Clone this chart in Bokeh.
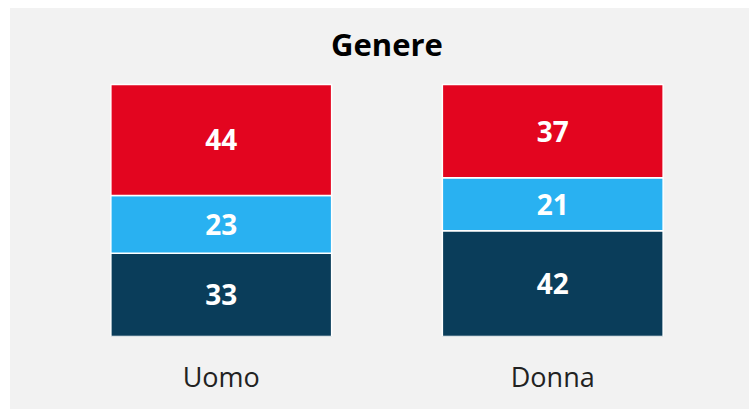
from bokeh.plotting import figure
from bokeh.models import ColumnDataSource, FactorRange
from bokeh.core.properties import value
from bokeh.embed import file_html
from bokeh.resources import INLINE

categories = ["Uomo", "Donna"]
series_names = ["s1", "s2", "s3"]  # bottom -> top
s1 = [33, 42]
s2 = [23, 21]
s3 = [44, 37]
colors = ["#0a3d5a", "#29b1f1", "#e3051f"]
title_text = "Genere"

BG = "#f2f2f2"
PLOT_W, PLOT_H = 739, 401
BORDER_BOTTOM = 73
BAR_PX = 252            # pixel height of a 100% bar
TITLE_GAP_PX = 41       # title anchor above bar tops
px_per_unit = BAR_PX / 100
y_end = (PLOT_H - BORDER_BOTTOM) / px_per_unit

src = ColumnDataSource(dict(cat=categories, s1=s1, s2=s2, s3=s3))

p = figure(x_range=FactorRange(*categories, range_padding=0), y_range=(0, y_end),
           width=PLOT_W, height=PLOT_H, output_backend="svg", toolbar_location=None,
           min_border_left=45, min_border_right=31, min_border_top=0,
           min_border_bottom=BORDER_BOTTOM, margin=(8, 0, 0, 10))
p.background_fill_color = None
p.border_fill_color = None
p.styles = {"background-color": BG}
p.outline_line_color = None
p.xgrid.visible = False
p.ygrid.visible = False
p.yaxis.visible = False

p.vbar_stack(series_names, x="cat", width=0.666, source=src, color=colors,
             line_color="white", line_width=1.5)

# labels at segment midpoints
lx, ly, lt = [], [], []
for i, c in enumerate(categories):
    base = 0
    for arr in (s1, s2, s3):
        v = arr[i]
        lx.append(c)
        ly.append(base + v / 2)
        lt.append(str(v))
        base += v
p.text(x=lx, y=ly, text=lt, text_align="center", text_baseline="middle",
       text_color="white", text_font=value("Open Sans"), text_font_style="bold",
       text_font_size="28px")

# chart title, centred over the two bars
p.text(x=[len(categories) / 2], y=[100 + TITLE_GAP_PX / px_per_unit], text=[title_text],
       text_align="center", text_baseline="alphabetic", text_color="black",
       text_font=value("Open Sans"), text_font_style="bold", text_font_size="31px")

ax = p.xaxis[0]
ax.axis_line_color = None
ax.major_tick_line_color = None
ax.minor_tick_line_color = None
ax.major_label_text_font = "Open Sans"
ax.major_label_text_font_size = "27px"
ax.major_label_text_color = "#222222"
ax.major_label_standoff = 15

open("out.html", "w").write(file_html(p, INLINE))
